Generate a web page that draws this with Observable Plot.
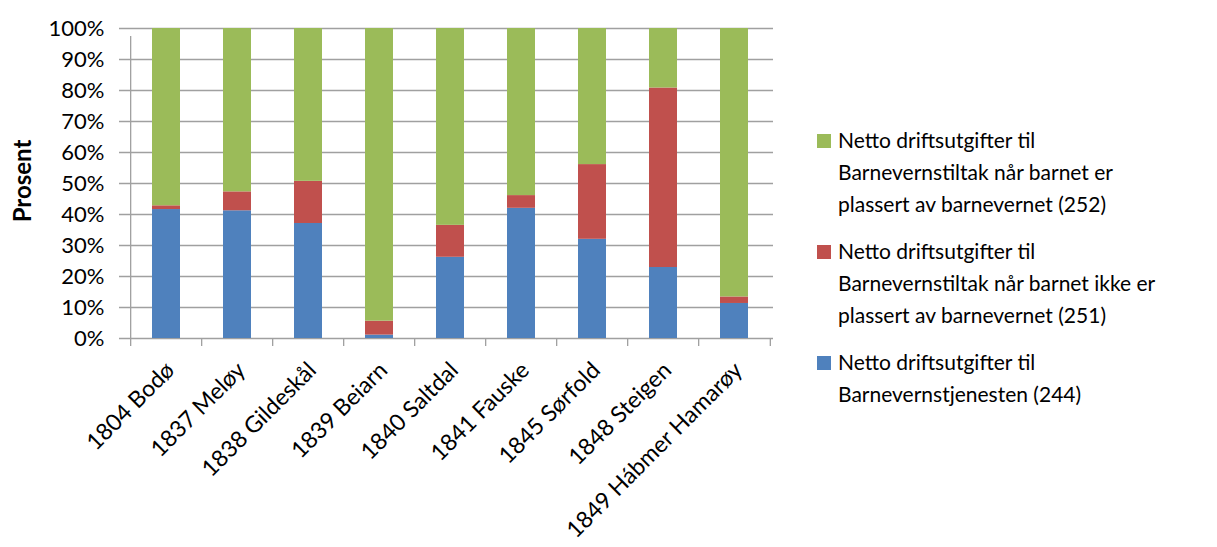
<!DOCTYPE html>
<html><head><meta charset="utf-8">
<script src="https://cdn.jsdelivr.net/npm/d3@7"></script>
<script src="https://cdn.jsdelivr.net/npm/@observablehq/plot@0.6"></script>
<style>
body{margin:0;background:#fff;font-family:Lato,sans-serif;}
#wrap{position:relative;width:1217px;height:547px;overflow:hidden;background:#fff}
#chart{position:absolute;left:0;top:0}
#ylabel{position:absolute;left:21px;top:181px;transform:translate(-50%,-50%) rotate(-90deg);font-size:24px;font-weight:bold;white-space:nowrap;color:#000}
#legend{position:absolute;left:817px;top:124px;color:#000}
.item{position:relative;padding-left:21px;margin-bottom:15px}
.sw{position:absolute;left:0;top:10px;width:14px;height:14px}
.lbl{font-size:21px;line-height:32px;white-space:nowrap}
</style>
</head><body>
<div id="wrap"><div id="chart"></div><div id="ylabel"></div><div id="legend"></div></div>
<script>
const categories = ["1804 Bodø","1837 Meløy","1838 Gildeskål","1839 Beiarn","1840 Saltdal","1841 Fauske","1845 Sørfold","1848 Steigen","1849 Hábmer Hamarøy"];
const seriesNames = [
  "Netto driftsutgifter til Barnevernstjenesten (244)",
  "Netto driftsutgifter til Barnevernstiltak når barnet ikke er plassert av barnevernet (251)",
  "Netto driftsutgifter til Barnevernstiltak når barnet er plassert av barnevernet (252)"
];
const seriesColors = ["#4F81BD","#C0504D","#9BBB59"];
const blue244  = [41.6, 41.2, 37.1, 1.1, 26.2, 42.0, 32.0, 22.9, 11.3];
const red251   = [1.2, 6.1, 13.6, 4.5, 10.3, 4.1, 24.1, 57.9, 2.1];
const green252 = [57.2, 52.7, 49.3, 94.4, 63.5, 53.9, 43.9, 19.2, 86.6];
const yTicks = [0,10,20,30,40,50,60,70,80,90,100];
const yLabel = "Prosent";
const legendLines = [
  ["Netto driftsutgifter til","Barnevernstiltak når barnet er","plassert av barnevernet (252)"],
  ["Netto driftsutgifter til","Barnevernstiltak når barnet ikke er","plassert av barnevernet (251)"],
  ["Netto driftsutgifter til","Barnevernstjenesten (244)"]
];
const legendColors = ["#9BBB59","#C0504D","#4F81BD"];

const seriesValues = [blue244, red251, green252];
const rows = [];
categories.forEach((c, i) => seriesValues.forEach((vals, s) => rows.push({cat: c, series: seriesNames[s], value: vals[i]})));

const W = 800, ML = 128, MR = 27;
const step = (W - ML - MR) / categories.length;
const gray = "#a0a0a0";

const chart = Plot.plot({
  width: W, height: 547,
  marginLeft: ML, marginRight: MR, marginTop: 28, marginBottom: 209,
  style: {fontFamily: "Lato, sans-serif", fontSize: "22px", color: "#000", background: "#fff"},
  x: {domain: categories, paddingInner: 0.6, paddingOuter: 0.3},
  y: {domain: [0, 100]},
  color: {domain: seriesNames, range: seriesColors},
  marks: [
    Plot.ruleY(yTicks, {stroke: gray, strokeWidth: 1.3, insetLeft: -9}),
    Plot.barY(rows, Plot.stackY({x: "cat", y: "value", fill: "series"})),
    Plot.ruleX([categories[0]], {dx: -step / 2, y1: 0, y2: 100, insetBottom: -8, stroke: gray, strokeWidth: 1.3}),
    Plot.ruleX(categories, {dx: -step / 2, y1: 0, y2: 0, insetBottom: -8, stroke: gray, strokeWidth: 1.3}),
    Plot.ruleX([categories[categories.length - 1]], {dx: step / 2, y1: 0, y2: 0, insetBottom: -8, stroke: gray, strokeWidth: 1.3}),
    Plot.axisY({ticks: yTicks, tickSize: 0, tickPadding: 24, tickFormat: d => d + "%", label: null, fontSize: 22}),
    Plot.axisX({tickSize: 0, tickRotate: -45, tickPadding: 28, dx: 4, label: null, fontSize: 23})
  ]
});
document.getElementById("chart").appendChild(chart);
document.getElementById("ylabel").textContent = yLabel;

const leg = document.getElementById("legend");
legendLines.forEach((lines, k) => {
  const item = document.createElement("div");
  item.className = "item";
  const sw = document.createElement("div");
  sw.className = "sw";
  sw.style.background = legendColors[k];
  item.appendChild(sw);
  lines.forEach(t => {
    const l = document.createElement("div");
    l.className = "lbl";
    l.textContent = t;
    item.appendChild(l);
  });
  leg.appendChild(item);
});
</script>
</body></html>
